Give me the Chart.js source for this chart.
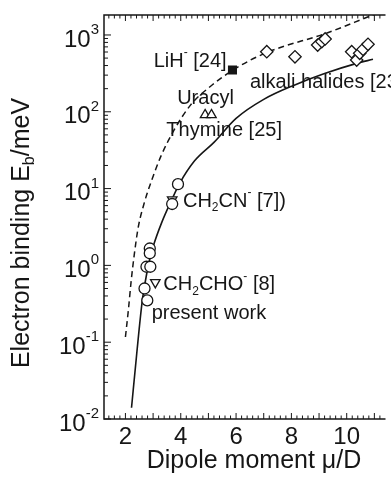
<!DOCTYPE html>
<html>
<head>
<meta charset="utf-8">
<script src="https://cdn.jsdelivr.net/npm/chart.js@4/dist/chart.umd.min.js"></script>
<style>
html, body { margin: 0; padding: 0; background: #fff; overflow: hidden; }
#wrap { width: 391px; height: 480px; position: relative; }
</style>
</head>
<body>
<div id="wrap"><canvas id="myChart"></canvas></div>
<script>
// present work (open circles)
var workX = [3.90, 3.69, 2.88, 2.88, 2.76, 2.90, 2.69, 2.79];
var workY = [11.4, 6.3, 1.66, 1.44, 0.96, 0.96, 0.50, 0.35];

// CH2CN- [7] and CH2CHO- [8] (down triangles)
var anionX = [3.69, 3.08];
var anionY = [7.2, 0.60];

// uracyl / thymine [25] (up triangles)
var nucleoX = [4.88, 5.11];
var nucleoY = [91, 91];

// LiH- [24] (filled square)
var lihX = [5.87];
var lihY = [350];

// alkali halides [23] (diamonds)
var alkaliX = [7.11, 8.13, 8.95, 9.10, 9.22, 10.18, 10.36, 10.47, 10.59, 10.77];
var alkaliY = [605, 520, 740, 820, 887, 605, 472, 578, 650, 757];

// solid curve
var solidX = [2.22, 2.4, 2.61, 2.73, 2.85, 3.0, 3.31, 3.67, 3.96, 4.5, 5.2, 6.0, 7.0, 8.1, 9.2, 10.36, 10.95];
var solidY = [0.014, 0.066, 0.35, 0.65, 1.1, 1.75, 3.6, 7.1, 11.7, 23, 40, 82, 145, 222, 315, 427, 482];

// dashed curve
var dashX = [2.0, 2.106, 2.211, 2.317, 2.458, 2.669, 2.951, 3.303, 3.761, 4.359, 5.134, 6.014, 7.07, 9.289, 10.944, 11.4];
var dashY = [0.117, 0.262, 0.645, 1.36, 3.07, 6.3, 12.9, 27.4, 58, 123, 223, 372, 583, 1062, 1820, 2100];

var xTicks = [2, 4, 6, 8, 10];
var yExp = [-2, -1, 0, 1, 2, 3];

// text notes: [text, 'n' | 'sup' | 'sub'] pieces
var notes = [
  [['LiH', 'n'], ['-', 'sup'], [' [24]', 'n']],
  [['alkali halides [23]', 'n']],
  [['Uracyl', 'n']],
  [['Thymine [25]', 'n']],
  [['CH', 'n'], ['2', 'sub'], ['CN', 'n'], ['-', 'sup'], [' [7])', 'n']],
  [['CH', 'n'], ['2', 'sub'], ['CHO', 'n'], ['-', 'sup'], [' [8]', 'n']],
  [['present work', 'n']]
];
var noteX = [3.02, 6.5, 3.87, 3.48, 4.08, 3.37, 2.95];
var noteY = [457, 244, 151, 57, 6.8, 0.556, 0.24];

function pts(xs, ys) {
  return xs.map(function (x, i) { return { x: x, y: ys[i] }; });
}

var FONT = '"Liberation Sans", Arial, sans-serif';
var INK = '#161616';

function fontFor(kind, size) {
  var s = kind === 'n' ? size : Math.round(size * 0.62);
  return s + 'px ' + FONT;
}

function drawRich(c, parts, x, y, size, align) {
  var w = 0;
  parts.forEach(function (p) { c.font = fontFor(p[1], size); w += c.measureText(p[0]).width; });
  var cx = align === 'right' ? x - w : (align === 'center' ? x - w / 2 : x);
  c.textAlign = 'left';
  c.textBaseline = 'middle';
  parts.forEach(function (p) {
    c.font = fontFor(p[1], size);
    var off = p[1] === 'sup' ? -size * 0.42 : (p[1] === 'sub' ? size * 0.32 : 0);
    c.fillText(p[0], cx, y + off);
    cx += c.measureText(p[0]).width;
  });
}

var framePlugin = {
  id: 'frame',
  afterDatasetsDraw: function (chart) {
    var c = chart.ctx, a = chart.chartArea;
    var xs = chart.scales.x, ys = chart.scales.y;
    c.save();
    c.strokeStyle = INK;
    c.fillStyle = INK;
    c.lineWidth = 1.5;
    // frame: left, top, bottom (right side is off the picture)
    c.beginPath();
    c.moveTo(a.right + 2, a.top); c.lineTo(a.left, a.top); c.lineTo(a.left, a.bottom); c.lineTo(a.right + 2, a.bottom);
    c.stroke();

    c.lineWidth = 1;
    c.beginPath();
    // x ticks every 0.2, inward on bottom and top
    for (var k = 7; k <= 57; k++) {
      var v = k / 5;
      var px = xs.getPixelForValue(v);
      if (px < a.left + 1 || px > a.right) continue;
      var len = (k % 5 === 0) ? 6 : 3.5;
      c.moveTo(px, a.bottom); c.lineTo(px, a.bottom - len);
      c.moveTo(px, a.top); c.lineTo(px, a.top + len);
    }
    // y log ticks, inward on the left
    for (var e = -2; e <= 3; e++) {
      for (var m = 1; m <= 9; m++) {
        var val = m * Math.pow(10, e);
        if (val > ys.max) continue;
        var py = ys.getPixelForValue(val);
        var ln = m === 1 ? 7 : 4;
        c.moveTo(a.left, py); c.lineTo(a.left + ln, py);
      }
    }
    c.stroke();

    // y tick labels
    yExp.forEach(function (e) {
      var py = ys.getPixelForValue(Math.pow(10, e));
      drawRich(c, [['10', 'n'], [String(e), 'sup']], a.left - 5, py + 5, 24, 'right');
    });
    // x tick labels
    xTicks.forEach(function (v) {
      drawRich(c, [[String(v), 'n']], xs.getPixelForValue(v), a.bottom + 18, 24, 'center');
    });

    // axis titles
    drawRich(c, [['Dipole moment \u03bc/D', 'n']], 254, 461, 25, 'center');
    c.save();
    c.translate(22, 233);
    c.rotate(-Math.PI / 2);
    drawRich(c, [['Electron binding E', 'n'], ['b', 'sub'], ['/meV', 'n']], 0, 0, 25, 'center');
    c.restore();

    // notes
    notes.forEach(function (parts, i) {
      drawRich(c, parts, xs.getPixelForValue(noteX[i]), ys.getPixelForValue(noteY[i]), 20, 'left');
    });
    c.restore();
  }
};

const ctx = document.getElementById('myChart');

var config = {
  type: 'scatter',
  data: {
    datasets: [
      { data: pts(workX, workY), pointStyle: 'circle', pointRadius: 5.5 },
      { data: pts(anionX, anionY), pointStyle: 'triangle', rotation: 180, pointRadius: 5.5 },
      { data: pts(nucleoX, nucleoY), pointStyle: 'triangle', pointRadius: 5.5 },
      { data: pts(lihX, lihY), pointStyle: 'rect', pointRadius: 5.5, backgroundColor: INK },
      { data: pts(alkaliX, alkaliY), pointStyle: 'rectRot', pointRadius: 6.2 },
      { type: 'line', data: pts(solidX, solidY), showLine: true, borderWidth: 1.6,
        pointRadius: 0, cubicInterpolationMode: 'monotone', fill: false },
      { type: 'line', data: pts(dashX, dashY), showLine: true, borderWidth: 1.5, borderDash: [6, 4],
        pointRadius: 0, cubicInterpolationMode: 'monotone', fill: false }
    ]
  },
  options: {
    responsive: true,
    maintainAspectRatio: false,
    animation: false,
    layout: { padding: { left: 104, top: 15, right: 0, bottom: 61 } },
    datasets: {
      scatter: { borderColor: INK, backgroundColor: '#fff', borderWidth: 1.3 },
      line: { borderColor: INK }
    },
    plugins: { legend: { display: false }, tooltip: { enabled: false } },
    scales: {
      x: { type: 'linear', min: 1.225, max: 11.33, display: false },
      y: { type: 'logarithmic', min: 0.01, max: 1820, display: false }
    }
  },
  plugins: [framePlugin]
};

var chart = new Chart(ctx, config);
</script>
</body>
</html>
